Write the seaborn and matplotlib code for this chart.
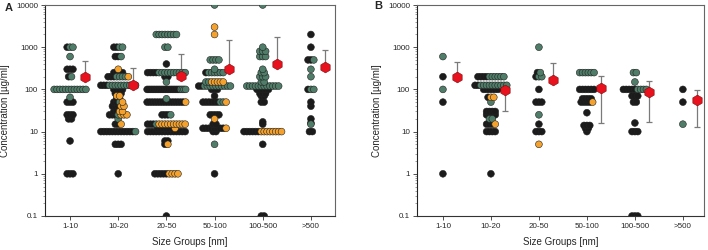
import numpy as np
import pandas as pd
import seaborn as sns
import matplotlib.pyplot as plt
from matplotlib.ticker import LogLocator, NullFormatter

# size groups on the x axis
groups = ['1-10', '10-20', '20-50', '50-100', '100-500', '>500']

# panel A, one list per size group, per colour class
a_black = [
    [1000, 300, 300, 300, 200, 50, 50, 50, 25, 25, 25, 20, 20, 6, 1, 1, 1],
    [1000, 1000, 600, 600, 250, 250, 250, 250, 200, 200, 200, 125, 125, 125,
     100, 100, 100, 100, 80, 80, 80, 60, 60, 50, 50, 40, 40, 40, 30, 30, 25, 25, 25,
     15, 15, 10, 10, 10, 10, 10, 10, 10, 10, 10, 10, 10, 10, 5, 5, 5, 1],
    [400, 250, 250, 250, 250, 200, 200,
     100, 100, 100, 100, 100, 100, 100, 100, 100, 100, 100, 100, 100, 100, 100, 100, 100, 100, 100, 100,
     50, 50, 50, 50, 50, 50, 50, 50, 50, 50, 50, 50, 50, 50, 50,
     25, 25, 25, 15, 15, 15, 12, 12, 12, 12, 12, 12,
     10, 10, 10, 10, 10, 10, 10, 10, 10, 10, 10, 10, 10, 10, 6, 6, 5, 1, 1, 1, 1, 1, 0.1],
    [250, 120, 120, 100, 100, 100, 70, 50, 50, 50, 50, 50, 50, 25, 25, 25, 25,
     15, 15, 12, 12, 12, 12, 12, 12, 12, 12, 10, 10, 1],
    [100, 100, 100, 100, 100, 80, 80, 80, 70, 70, 50, 50, 17, 15,
     10, 10, 10, 10, 10, 10, 5, 0.1, 0.1],
    [2000, 1000, 500, 500, 100, 50, 40, 20, 16, 10, 10],
]
a_green = [
    [1000, 1000, 600, 200, 100, 100, 100, 100, 100, 100, 100, 100, 100, 100, 100, 100, 65],
    [1000, 1000, 600, 200, 200, 200, 200, 125, 125, 125, 125, 125, 125, 125, 125, 125, 125,
     50, 25, 20, 10],
    [2000, 2000, 2000, 2000, 2000, 2000, 2000, 2000, 1000, 1000,
     250, 250, 250, 250, 250, 250, 250, 250, 250, 250, 150, 100, 100, 100, 100, 60, 25, 15],
    [10000, 500, 500, 500, 500, 300, 250, 250, 250, 250, 250, 250, 150, 150,
     120, 120, 120, 120, 120, 120, 120, 120, 120, 120, 50, 50, 5],
    [10000, 1000, 800, 800, 800, 600, 600, 600, 300, 250, 250, 200, 200, 200, 150, 150,
     120, 120, 120, 120, 120, 120, 120, 120, 120, 120, 120, 120],
    [500, 300, 200, 100, 100, 15],
]
a_orange = [
    [],
    [300, 200, 70, 70, 50, 40, 40, 30, 30, 25, 25, 25, 15],
    [50, 15, 15, 15, 15, 15, 15, 15, 15, 15, 15, 12, 5, 1, 1, 1, 1],
    [3000, 2000, 150, 150, 150, 150, 150, 50, 20, 12],
    [10, 10, 10, 10, 10, 10, 10, 10],
    [],
]
a_mean = [200, 125, 210, 300, 390, 340]
a_lo = [200, 125, 210, 300, 390, 340]
a_hi = [480, 320, 680, 1500, 1750, 860]

# panel B
b_black = [
    [200, 50, 1],
    [200, 200, 200, 200, 125, 125, 100, 100, 100, 100, 100, 100, 65,
     30, 30, 30, 30, 25, 25, 25, 25, 15, 15, 15, 10, 10, 10, 10, 1],
    [250, 200, 100, 50, 50, 50, 15, 10, 10, 10],
    [100, 100, 100, 100, 100, 100, 60, 60, 60, 60, 50, 50, 50, 50, 28,
     14, 14, 14, 12, 12, 10],
    [100, 100, 100, 100, 100, 70, 70, 70, 50, 50, 16, 10, 10, 10, 0.1, 0.1, 0.1],
    [100, 50],
]
b_green = [
    [600, 100],
    [200, 200, 200, 200, 200, 200, 125, 125, 125, 125, 125, 125, 125, 125, 125, 125, 50, 20, 20],
    [1000, 250, 200, 200, 25],
    [250, 250, 250, 250, 250, 250],
    [250, 250, 150, 100, 100, 100, 100],
    [15],
]
b_orange = [
    [],
    [65, 65, 15],
    [5],
    [50],
    [],
    [],
]
b_mean = [200, 95, 170, 110, 88, 55]
b_lo = [200, 30, 170, 16, 17, 13]
b_hi = [450, 95, 420, 210, 155, 95]

colors = {'black': '#1b1b1b', 'green': '#4f7d69', 'orange': '#f4a22d'}
kinds = ['black', 'green', 'orange']


def swarm_table(black, green, orange, step=0.06, maxw=0.8):
    # spread points that share a value side by side, black then green then orange
    rows = []
    for g in range(len(groups)):
        pts = [(v, 'black') for v in black[g]] + [(v, 'green') for v in green[g]] + \
              [(v, 'orange') for v in orange[g]]
        for v in sorted(set(p[0] for p in pts)):
            same = [p for p in pts if p[0] == v]
            n = len(same)
            s = step if n < 2 else min(step, maxw / (n - 1))
            for i, (val, kind) in enumerate(same):
                rows.append({'x': g + (i - (n - 1) / 2) * s, 'y': val, 'kind': kind})
    df = pd.DataFrame(rows)
    df['order'] = df['kind'].map({k: i for i, k in enumerate(kinds)})
    return df.sort_values('order', kind='stable')


sns.set_theme(style='ticks')
plt.rcParams['font.family'] = ['Liberation Sans', 'DejaVu Sans']

fig = plt.figure(figsize=(7.08, 2.5), dpi=100)
ax_a = fig.add_axes([45 / 708, 34 / 250, 290 / 708, 211 / 250])
ax_b = fig.add_axes([417 / 708, 34 / 250, 287 / 708, 211 / 250])

panels = [
    (ax_a, 'A', a_black, a_green, a_orange, a_mean, a_lo, a_hi, (-0.52, 5.5)),
    (ax_b, 'B', b_black, b_green, b_orange, b_mean, b_lo, b_hi, (-0.54, 5.44)),
]

for ax, letter, blk, grn, org, mean, lo, hi, xlim in panels:
    df = swarm_table(blk, grn, org)
    sns.scatterplot(data=df, x='x', y='y', hue='kind', palette=colors, hue_order=kinds,
                    s=24, edgecolor='#222222', linewidth=0.4, legend=False, ax=ax, zorder=3)

    mean = np.array(mean, dtype=float)
    xm = np.arange(len(groups)) + 0.3
    yerr = [mean - np.array(lo), np.array(hi) - mean]
    ax.errorbar(xm, mean, yerr=yerr, fmt='none', ecolor='#7a7a7a', elinewidth=0.9,
                capsize=2.5, capthick=0.9, zorder=2)
    ax.scatter(xm, mean, marker='h', s=60, color='#e8121e', edgecolor='#7a0a0a',
               linewidth=0.4, zorder=4)

    ax.set_yscale('log')
    ax.set_ylim(0.1, 10000)
    ax.set_xlim(*xlim)
    ax.set_yticks([0.1, 1, 10, 100, 1000, 10000])
    ax.set_yticklabels(['0.1', '1', '10', '100', '1000', '10000'])
    ax.yaxis.set_minor_locator(LogLocator(base=10, subs=np.arange(2, 10) * 1.0, numticks=20))
    ax.yaxis.set_minor_formatter(NullFormatter())
    ax.set_xticks(range(len(groups)))
    ax.set_xticklabels(groups)
    ax.tick_params(axis='both', which='major', labelsize=5.8, length=3, width=0.6,
                   color='#333333', pad=2)
    ax.tick_params(axis='y', which='minor', length=1.5, width=0.4, color='#555555')
    ax.set_xlabel('Size Groups [nm]', fontsize=7, labelpad=5)
    ax.set_ylabel('Concentration [\u00b5g/ml]', fontsize=7, labelpad=4)
    for side in ['top', 'right', 'bottom', 'left']:
        ax.spines[side].set_visible(True)
        ax.spines[side].set_linewidth(0.8)
        ax.spines[side].set_color('#666666')
    ax.spines['left'].set_color('#222222')
    ax.spines['bottom'].set_color('#333333')

ax_a.text(-0.14, 0.985, 'A', transform=ax_a.transAxes, fontsize=8, fontweight='bold',
          ha='left', va='center')
ax_b.text(-0.15, 0.995, 'B', transform=ax_b.transAxes, fontsize=8, fontweight='bold',
          ha='left', va='center')

fig.savefig('out.png', dpi=100)
